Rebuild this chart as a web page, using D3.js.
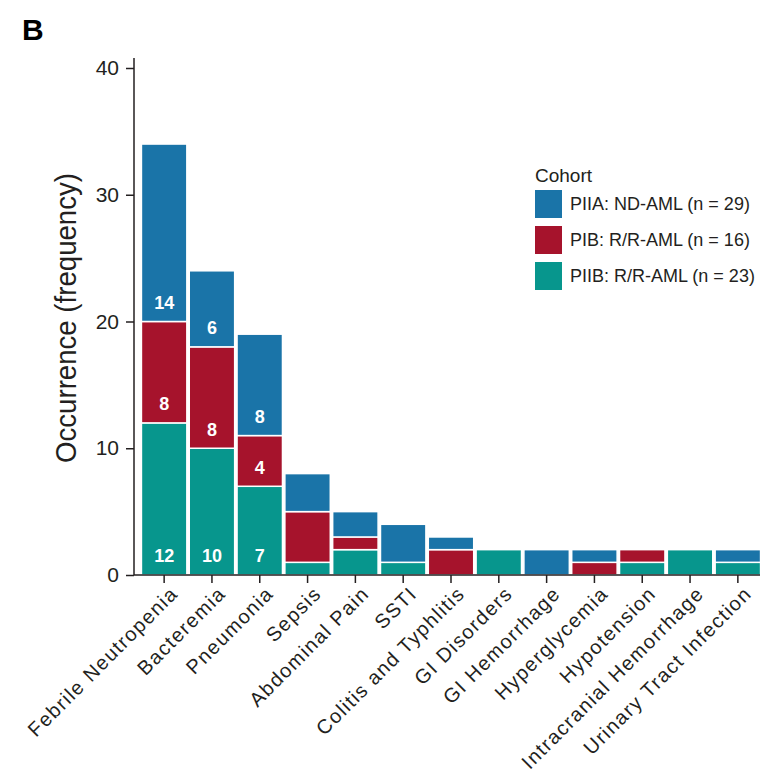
<!DOCTYPE html>
<html>
<head>
<meta charset="utf-8">
<script src="https://cdn.jsdelivr.net/npm/d3@7"></script>
<style>
  body { margin: 0; background: #fff; }
  text { font-family: "Liberation Sans", Arial, sans-serif; fill: #231f20; }
</style>
</head>
<body>
<div id="chart"></div>
<script>
// categories and stacked counts per cohort
const categories = ["Febrile Neutropenia", "Bacteremia", "Pneumonia", "Sepsis", "Abdominal Pain", "SSTI",
  "Colitis and Typhlitis", "GI Disorders", "GI Hemorrhage", "Hyperglycemia", "Hypotension",
  "Intracranial Hemorrhage", "Urinary Tract Infection"];
const piib = [12, 10, 7, 1, 2, 1, 0, 2, 0, 0, 1, 2, 1];   // bottom
const pib  = [8, 8, 4, 4, 1, 0, 2, 0, 0, 1, 1, 0, 0];     // middle
const piia = [14, 6, 8, 3, 2, 3, 1, 0, 2, 1, 0, 0, 1];    // top
const series = ["PIIB: R/R-AML (n = 23)", "PIB: R/R-AML (n = 16)", "PIIA: ND-AML (n = 29)"];
const colors = ["#07968d", "#a6132c", "#1a74a8"];
const yTicks = [0, 10, 20, 30, 40];
const labelled = 3; // first three bars carry value labels

const width = 760, height = 779;
const svg = d3.select("#chart").append("svg").attr("width", width).attr("height", height);

const x = d3.scaleBand().domain(categories).range([140, 762]).paddingInner(0.05).paddingOuter(0.03);
const y = d3.scaleLinear().domain([0, 40]).range([575, 68]);

const rows = categories.map((c, i) => ({ cat: c, v: [piib[i], pib[i], piia[i]] }));
const stack = d3.stack().keys([0, 1, 2]).value((d, k) => d.v[k]);
const layers = stack(rows);

const g = svg.append("g");
layers.forEach((layer, k) => {
  g.selectAll(null).data(layer.filter(d => d[1] > d[0]))
    .join("rect")
    .attr("x", d => x(d.data.cat))
    .attr("width", x.bandwidth())
    .attr("y", d => y(d[1]))
    .attr("height", d => y(d[0]) - y(d[1]))
    .attr("fill", colors[k])
    .attr("stroke", "#fff")
    .attr("stroke-width", 1.5);

  g.selectAll(null).data(layer.filter((d, i) => i < labelled && d[1] > d[0]))
    .join("text")
    .attr("x", d => x(d.data.cat) + x.bandwidth() / 2)
    .attr("y", d => y(d[0]) - 19)
    .attr("dy", "0.35em")
    .attr("text-anchor", "middle")
    .style("fill", "#fff")
    .style("font-size", "18px")
    .style("font-weight", "bold")
    .text(d => d[1] - d[0]);
});

// y axis
const yAxis = svg.append("g").attr("transform", "translate(134,0)")
  .call(d3.axisLeft(y).tickValues(yTicks).tickSize(8).tickPadding(7));
yAxis.select(".domain").attr("d", "M0,575V58");
yAxis.selectAll("line, path").attr("stroke", "#231f20").attr("stroke-width", 1.5);
yAxis.selectAll("text").style("font-size", "21px").style("fill", "#231f20");

// x axis
const xAxis = svg.append("g").attr("transform", "translate(0,575)")
  .call(d3.axisBottom(x).tickSize(8).tickSizeOuter(0));
xAxis.select(".domain").attr("d", "M134,0H760");
xAxis.selectAll("line, path").attr("stroke", "#231f20").attr("stroke-width", 1.5);
xAxis.selectAll("text")
  .style("font-size", "20px").style("letter-spacing", "1.4px").style("fill", "#231f20")
  .attr("text-anchor", "end")
  .attr("transform", "translate(10,15) rotate(-45)")
  .attr("y", 0).attr("dy", "0.35em").attr("x", 0);

// y label
svg.append("text")
  .attr("transform", "translate(76,318) rotate(-90)")
  .attr("text-anchor", "middle")
  .attr("textLength", 290)
  .attr("lengthAdjust", "spacingAndGlyphs")
  .style("font-size", "30px")
  .text("Occurrence (frequency)");

// panel letter
svg.append("text").attr("x", 22).attr("y", 40)
  .style("font-size", "30px").style("font-weight", "bold").style("fill", "#000")
  .text("B");

// legend
const leg = svg.append("g").attr("transform", "translate(535,0)");
leg.append("text").attr("x", 0).attr("y", 182).style("font-size", "19px").text("Cohort");
const legOrder = [2, 1, 0];
legOrder.forEach((k, i) => {
  const yy = 190 + i * 36;
  leg.append("rect").attr("x", 0).attr("y", yy).attr("width", 27).attr("height", 28)
    .attr("fill", colors[k]);
  leg.append("text").attr("x", 35).attr("y", yy + 14).attr("dy", "0.35em")
    .style("font-size", "18px").text(series[k]);
});
</script>
</body>
</html>
